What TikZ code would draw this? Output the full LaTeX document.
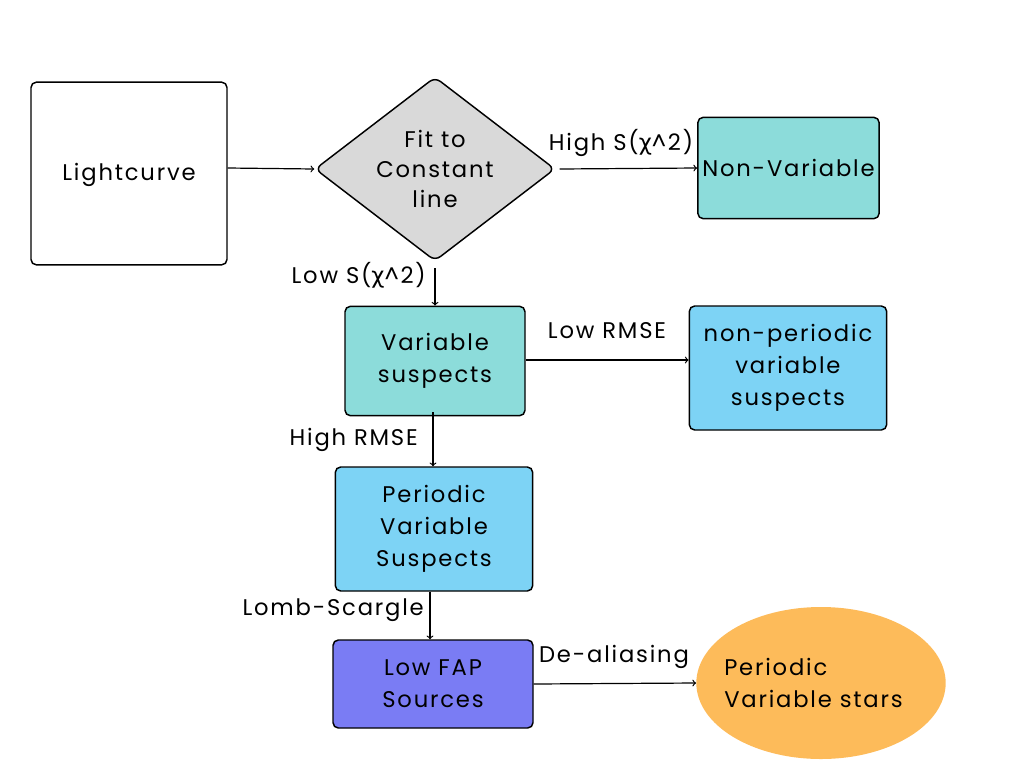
\documentclass[tikz,border=0pt]{standalone}
\usepackage{fontspec}
\setmainfont[LetterSpace=8]{Poppins}
\newfontfamily\chifont{DejaVu Sans}
\usetikzlibrary{shapes.geometric, arrows}
\definecolor{lightteal}{HTML}{8CDCDA}
\definecolor{skyblue}{HTML}{7DD3F5}
\definecolor{fapblue}{HTML}{7A7CF4}
\definecolor{starorange}{HTML}{FDBB5A}
\definecolor{fitgrey}{HTML}{D9D9D9}
\newcommand{\chisq}{S({\chifont χ}\string^2)}
\tikzset{
  box/.style={draw, rounded corners=4pt, line width=1.1pt, align=center, inner sep=0pt},
  lbl/.style={inner sep=0pt},
  flow/.style={->, >=to, line width=0.9pt}
}

\begin{document}
\begin{tikzpicture}[x=0.75pt, y=-0.75pt, font=\fontsize{17}{24}\selectfont]
\useasboundingbox (0,0) rectangle (1024,768);
% boxes
\node[box, fill=white, minimum width=147pt, minimum height=137pt] (lc) at (129,173.5) {};
\node[inner sep=0pt] (lctext) at (129,175) {Lightcurve};
\node[box, diamond, fill=fitgrey, rounded corners=5pt, minimum width=180pt, minimum height=138pt] (fit) at (435,169) {};
\node[align=center, inner sep=0pt, font=\fontsize{17}{22.5}\selectfont] (fittext) at (fit) {Fit to\\Constant\\line};
\node[box, fill=lightteal, minimum width=136pt, minimum height=76pt] (nonvar) at (788.5,168) {Non-Variable};
\node[box, fill=lightteal, minimum width=135pt, minimum height=82pt] (vs) at (435,361) {Variable\\suspects};
\node[box, fill=skyblue, minimum width=148pt, minimum height=93pt] (npvs) at (788,368) {non-periodic\\variable\\suspects};
\node[box, fill=skyblue, minimum width=148pt, minimum height=93pt] (pvs) at (434,529) {Periodic\\Variable\\Suspects};
\node[box, fill=fapblue, minimum width=150pt, minimum height=66pt] (fap) at (433,684) {Low FAP\\Sources};
\node[ellipse, fill=starorange, minimum width=187pt, minimum height=114pt, inner sep=0pt] (stars) at (821,683) {};
\node[align=left, inner sep=0pt, anchor=west] (starstext) at (724,683) {Periodic\\Variable stars};

% labels
\node[lbl] (hi) at (621,143) {High \chisq};
\node[lbl, anchor=east] (lo) at (426,275) {Low \chisq};
\node[lbl] (lormse) at (607,331) {Low RMSE};
\node[lbl, anchor=east] (hirmse) at (418,440) {High RMSE};
\node[lbl, anchor=east] (lomb) at (424,610) {Lomb-Scargle};
\node[lbl] (alias) at (614,657) {De-aliasing};

% arrows
\draw[flow] (lc.east |- 0,168) -- (fit.west);
\draw[flow] ([xshift=3pt]fit.east) -- (nonvar.west);
\draw[flow] ([yshift=-5pt]fit.south) -- (vs.north);
\draw[flow] (vs.east |- 0,360) -- (npvs.west |- 0,360);
\draw[flow] (433,412) -- (pvs.north -| 433,0);
\draw[flow] (pvs.south -| 430,0) -- (fap.north -| 430,0);
\draw[flow] (fap.east) -- (stars.west);
\end{tikzpicture}
\end{document}
